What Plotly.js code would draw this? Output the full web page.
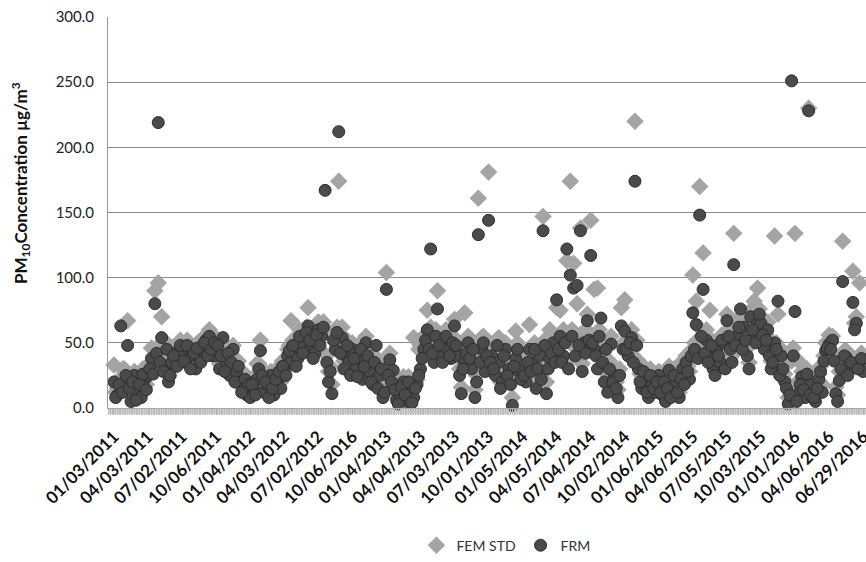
<!DOCTYPE html>
<html>
<head>
<meta charset="utf-8">
<script src="https://cdn.plot.ly/plotly-3.0.1.min.js"></script>
<style>html,body{margin:0;padding:0;background:#fff;}#chart{width:866px;height:562px;}</style>
</head>
<body>
<div id="chart"></div>
<script>
// Category tick labels (one label every 10 samples)
const tickLabels = ["01/03/2011","04/03/2011","07/02/2011","10/06/2011","01/04/2012","04/03/2012",
  "07/02/2012","10/06/2016","01/04/2013","04/04/2013","07/03/2013","10/01/2013","01/05/2014",
  "04/05/2014","07/04/2014","10/02/2014","01/06/2015","04/06/2015","07/05/2015","10/03/2015",
  "01/01/2016","04/06/2016","06/29/2016"];
const labelEvery = 10;

// FEM STD values (µg/m3) at the labelled sample positions
const femStd = [
  33,15,22,30,67,12,28,18,14,30,
  30,46,90,96,70,36,25,40,45,44,
  45,40,48,44,36,42,48,56,60,44,
  44,34,50,40,30,48,32,25,18,14,
  12,20,34,52,16,22,28,14,24,20,
  36,45,67,50,44,56,60,77,54,48,
  66,62,60,28,18,50,174,62,46,40,
  50,35,42,28,55,32,22,35,30,12,
  104,42,20,10,14,24,10,16,54,22,
  48,55,75,62,42,90,46,56,52,45,
  68,45,16,73,55,36,14,161,54,34,
  181,46,30,54,26,50,36,8,59,34,
  36,26,64,40,20,46,147,20,60,55,
  77,75,60,113,174,111,80,138,59,72,
  144,91,92,50,28,18,55,30,14,77,
  83,48,60,220,36,22,28,12,24,16,
  28,14,8,32,20,24,12,36,40,28,
  102,82,170,119,60,75,36,50,42,55,
  72,52,134,60,70,68,46,75,82,92,
  70,50,66,36,132,72,45,26,8,36,
  134,36,28,14,230,24,10,26,18,50,
  56,55,16,28,128,44,36,105,70,96,40
];
// FEM STD values at the in-between sample positions
const femStdMid = [
  12,22,30,28,20,24,10,22,30,18,
  34,30,46,40,32,50,30,44,36,52,
  40,52,35,46,50,40,54,45,50,55,
  52,44,32,46,40,25,36,16,26,22,
  22,14,34,30,24,12,20,26,32,36,
  30,48,52,38,60,48,62,56,44,60,
  54,66,40,32,56,62,48,36,52,30,
  42,28,50,38,45,26,40,20,35,16,
  28,24,18,8,20,14,24,8,20,45,
  44,56,50,48,60,54,40,60,46,55,
  52,30,35,46,44,50,25,40,55,45,
  40,35,52,20,46,30,22,38,50,26,
  30,40,34,50,36,28,52,35,48,40,
  50,40,56,36,60,46,52,34,48,58,
  55,46,60,40,50,36,26,20,30,50,
  50,55,40,52,26,32,16,30,20,25,
  16,24,20,12,30,16,26,22,32,44,
  50,42,60,46,40,52,30,45,56,35,
  60,40,52,66,50,56,35,64,55,76,
  60,56,44,40,50,30,35,20,14,46,
  10,22,18,30,14,12,20,32,40,50,
  50,40,10,34,44,30,40,65,36,42
];

// FRM values (µg/m3) at the labelled sample positions
const frm = [
  20,10,63,15,48,5,25,12,8,22,
  25,38,80,219,54,30,20,35,42,40,
  42,35,45,40,30,38,44,52,55,40,
  40,30,54,35,25,45,28,20,15,10,
  8,15,22,44,12,18,25,10,20,15,
  30,40,35,45,38,50,55,63,48,42,
  60,55,167,20,11,45,212,54,40,35,
  45,30,38,22,50,28,18,48,25,8,
  91,37,29,6,10,20,5,12,8,18,
  30,45,60,122,35,76,40,50,45,38,
  63,40,11,35,50,30,8,133,45,28,
  144,40,25,35,20,45,30,2,38,28,
  30,20,45,35,15,40,136,11,38,50,
  83,55,40,122,102,92,94,136,50,67,
  117,45,30,69,20,12,49,25,8,63,
  59,40,54,174,30,15,22,8,18,12,
  25,10,5,29,15,20,8,30,35,22,
  73,64,148,91,52,40,30,45,35,50,
  67,45,110,55,76,62,40,70,58,65,
  65,45,60,30,50,82,40,20,3,251,
  74,11,24,8,228,18,5,22,12,44,
  49,52,11,21,97,39,30,81,65,35,28
];
// FRM values at the in-between sample positions
const frmMid = [
  8,18,12,25,15,20,6,18,26,14,
  30,26,42,35,28,45,25,40,32,48,
  36,48,30,42,46,35,50,40,45,50,
  48,40,28,42,35,20,32,12,22,18,
  18,10,30,25,20,8,15,22,28,32,
  25,44,48,32,55,42,58,52,38,56,
  48,62,35,28,52,58,42,30,48,25,
  38,24,45,32,40,20,35,15,30,12,
  25,20,14,3,16,10,20,4,15,25,
  38,52,45,42,55,48,35,55,40,50,
  48,25,30,42,38,45,20,35,50,40,
  35,30,48,15,40,25,18,32,45,22,
  25,35,28,45,30,22,48,30,42,35,
  45,35,50,30,55,40,48,28,42,52,
  50,40,55,35,45,30,20,15,25,45,
  45,50,35,48,20,28,12,25,15,20,
  12,20,15,8,25,12,22,18,28,40,
  45,38,55,42,35,48,25,40,52,30,
  55,35,48,62,45,52,30,60,50,72,
  56,52,40,35,45,25,30,15,10,40,
  5,18,14,26,10,8,15,28,36,46,
  45,36,5,30,40,25,35,60,30,38
];

function positions(main, mid) {
  return main.map((_, i) => i).concat(mid.map((_, i) => i + 0.5));
}
const tickVals = tickLabels.map((_, k) => k * labelEvery);

const font = "Lato, 'Open Sans', 'DejaVu Sans', sans-serif";

const traces = [
  {
    x: positions(femStd, femStdMid), y: femStd.concat(femStdMid),
    name: "FEM STD", type: "scatter", mode: "markers",
    marker: {symbol: "diamond", size: 13, color: "#a4a4a4", line: {color: "#989898", width: 0.5}},
    cliponaxis: false
  },
  {
    x: positions(frm, frmMid), y: frm.concat(frmMid),
    name: "FRM", type: "scatter", mode: "markers",
    marker: {symbol: "circle", size: 12, color: "#4a4a4a", line: {color: "#2e2e2e", width: 1}},
    cliponaxis: false
  }
];

const layout = {
  width: 866, height: 562,
  margin: {l: 108, r: 0, t: 17, b: 151},
  paper_bgcolor: "#ffffff", plot_bgcolor: "#ffffff",
  font: {family: font, color: "#222"},
  showlegend: true,
  legend: {
    orientation: "h", x: 0.525, xanchor: "center", y: -0.352, yanchor: "middle",
    font: {size: 14, color: "#333"}, traceorder: "normal"
  },
  xaxis: {
    range: [-1.76, 220.85],
    tickmode: "array", tickvals: tickVals, ticktext: tickLabels,
    tickangle: -45, ticklabeloverflow: "allow", ticklabelstandoff: 5,
    tickfont: {size: 17, family: font, color: "#111", weight: "bold"},
    showgrid: false, zeroline: false,
    showline: true, linecolor: "#a8a8a8", linewidth: 1,
    ticks: "outside", ticklen: 6, tickcolor: "#b0b0b0", tickwidth: 1,
    minor: {dtick: 0.5, tick0: 0, ticks: "outside", ticklen: 6, tickcolor: "#bcbcbc", tickwidth: 1, showgrid: false},
    fixedrange: true
  },
  yaxis: {
    range: [0, 300], dtick: 50, tick0: 0, tickformat: ".1f",
    tickfont: {size: 15, family: font, color: "#222"},
    showgrid: true, gridcolor: "#8a8a8a", gridwidth: 1,
    zeroline: false, showline: true, linecolor: "#9a9a9a", linewidth: 1,
    ticks: "", ticklabelstandoff: 10,
    fixedrange: true
  },
  shapes: [
    {type: "rect", xref: "paper", yref: "paper", x0: 0, x1: 1, y0: -0.016, y1: 0,
     fillcolor: "#d0d0d0", line: {width: 0}, layer: "below"}
  ],
  annotations: [
    {text: "PM<sub>10</sub>Concentration µg/m<sup>3</sup>", xref: "paper", yref: "paper",
     x: -0.115, y: 0.575, xanchor: "center", yanchor: "middle", textangle: -90, showarrow: false,
     font: {size: 17, family: font, color: "#111", weight: "bold"}}
  ]
};

Plotly.newPlot("chart", traces, layout, {displayModeBar: false, staticPlot: true});
</script>
</body>
</html>
